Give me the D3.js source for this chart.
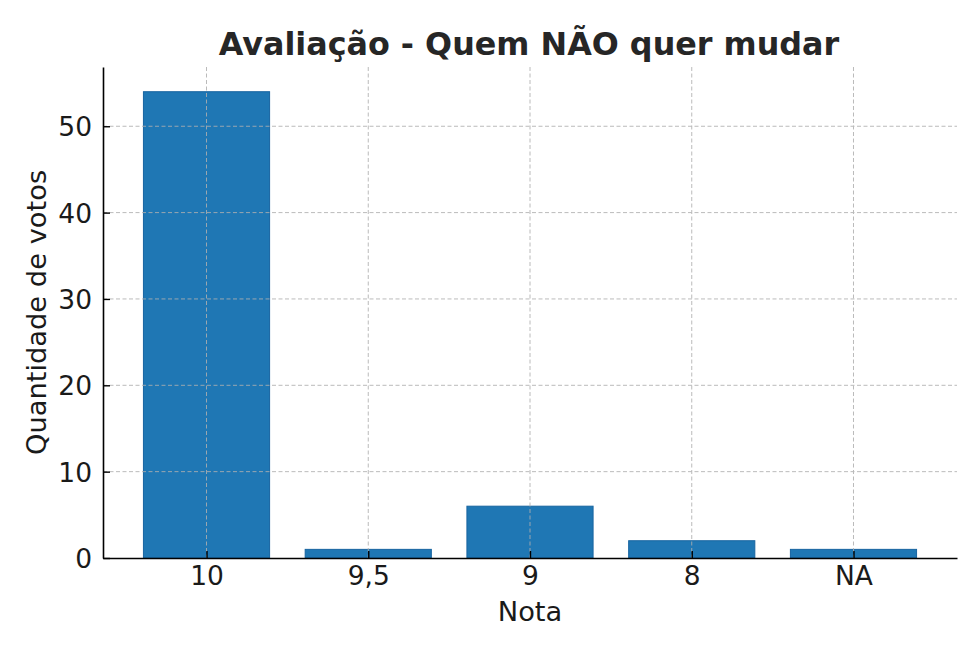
<!DOCTYPE html>
<html>
<head>
<meta charset="utf-8">
<script src="https://cdn.jsdelivr.net/npm/d3@7"></script>
<style>
  body { margin: 0; background: #fff; }
  svg { display: block; font-family: "DejaVu Sans", sans-serif; }
</style>
</head>
<body>
<svg id="chart" width="980" height="653"></svg>
<script>
// Notas e quantidade de votos
const categories = ["10", "9,5", "9", "8", "NA"];
const votes = [54, 1, 6, 2, 1];
const yTicks = [0, 10, 20, 30, 40, 50];

const margin = { top: 67, right: 23, bottom: 95, left: 103 };
const width = 980 - margin.left - margin.right;
const height = 653 - margin.top - margin.bottom;

const svg = d3.select("#chart");
const g = svg.append("g").attr("transform", `translate(${margin.left},${margin.top})`);

// matplotlib-like: categorical positions 0..n-1, bar width 0.8, 5% padding
const n = categories.length;
const x = d3.scaleLinear()
  .domain([-0.4 - 0.05 * (n - 0.2), n - 1 + 0.4 + 0.05 * (n - 0.2)])
  .range([0, width]);
const y = d3.scaleLinear()
  .domain([0, d3.max(votes) * 1.053])
  .range([height, 0]);

// bars
g.append("g")
  .selectAll("rect")
  .data(votes)
  .join("rect")
  .attr("x", (d, i) => x(i - 0.39))
  .attr("width", (d, i) => x(i + 0.39) - x(i - 0.39))
  .attr("y", d => y(d))
  .attr("height", d => y(0) - y(d))
  .attr("fill", "#1f77b4")
  .attr("stroke", "#1764a0")
  .attr("stroke-width", 1);

// grid over bars
const grid = g.append("g").attr("class", "grid")
  .attr("stroke", "#b0b0b0")
  .attr("stroke-width", 1)
  .attr("stroke-dasharray", "4,2.5")
  .attr("opacity", 0.85);
grid.selectAll("line.h")
  .data(yTicks.filter(t => t > 0))
  .join("line")
  .attr("class", "h")
  .attr("x1", 0).attr("x2", width)
  .attr("y1", d => y(d)).attr("y2", d => y(d));
grid.selectAll("line.v")
  .data(categories)
  .join("line")
  .attr("class", "v")
  .attr("x1", (d, i) => x(i)).attr("x2", (d, i) => x(i))
  .attr("y1", 0).attr("y2", height);

// axes
const xAxis = d3.axisBottom(x)
  .tickValues(d3.range(n))
  .tickFormat(i => categories[i])
  .tickSizeInner(-7)
  .tickSizeOuter(0)
  .tickPadding(12);
const yAxis = d3.axisLeft(y)
  .tickValues(yTicks)
  .tickSizeInner(-7)
  .tickSizeOuter(0)
  .tickPadding(11);

const gx = g.append("g").attr("transform", `translate(0,${height})`).call(xAxis);
const gy = g.append("g").call(yAxis);

[gx, gy].forEach(a => {
  a.attr("font-family", null).attr("font-size", null);
  a.select(".domain").attr("stroke", "#000").attr("stroke-width", 1.6);
  a.selectAll(".tick line").attr("stroke", "#000").attr("stroke-width", 1.4);
  a.selectAll(".tick text").attr("fill", "#1a1a1a").style("font-size", "26.5px");
});
gx.selectAll(".tick text").attr("y", 27).attr("dy", null);
gy.selectAll(".tick text").attr("dy", "0.36em");

// labels
svg.append("text")
  .attr("x", margin.left + width / 2)
  .attr("y", 621)
  .attr("text-anchor", "middle")
  .attr("fill", "#1a1a1a")
  .style("font-size", "27.3px")
  .text("Nota");

svg.append("text")
  .attr("transform", `translate(46,${margin.top + height / 2}) rotate(-90)`)
  .attr("text-anchor", "middle")
  .attr("fill", "#1a1a1a")
  .style("font-size", "27.3px")
  .text("Quantidade de votos");

svg.append("text")
  .attr("x", 529)
  .attr("y", 55)
  .attr("text-anchor", "middle")
  .attr("fill", "#262626")
  .style("font-size", "31.8px")
  .style("font-weight", "bold")
  .text("Avaliação - Quem NÃO quer mudar");
</script>
</body>
</html>
